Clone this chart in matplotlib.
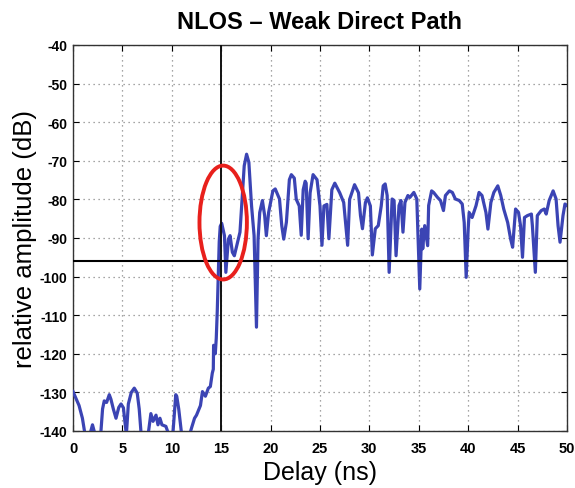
import matplotlib
matplotlib.use("Agg")
import matplotlib.pyplot as plt
from matplotlib.patches import Ellipse

plt.rcParams['font.family'] = ['Liberation Sans', 'DejaVu Sans']

delay_ns = [
    0.0, 0.34, 0.61, 0.95, 1.22, 1.7, 1.97, 2.24, 2.8, 2.99, 3.16, 3.4, 3.67, 3.84, 4.08, 4.35, 4.63, 4.86,
    5.1, 5.4, 5.6, 5.9, 6.2, 6.5, 6.7, 6.9, 7.6, 7.88, 8.1, 8.4, 8.6, 8.8, 9.0, 9.4, 9.7, 10.1, 10.4, 10.5,
    10.7, 11.0, 11.8, 12.0, 12.3, 12.5, 12.9, 13.1, 13.4, 13.7, 13.9, 14.1, 14.2, 14.23, 14.4, 14.5, 14.6,
    14.7, 14.8, 14.9, 15.05, 15.33, 15.47, 15.73, 15.9, 16.13, 16.33, 16.57, 16.9, 17.07, 17.33, 17.57, 17.8,
    18.07, 18.33, 18.57, 18.73, 18.9, 19.17, 19.4, 19.57, 19.8, 20.23, 20.47, 20.9, 21.13, 21.33, 21.6, 21.9,
    22.1, 22.4, 22.6, 22.9, 23.1, 23.3, 23.5, 23.6, 23.8, 24.0, 24.3, 24.7, 25.0, 25.2, 25.4, 25.7, 25.9,
    26.2, 26.5, 27.0, 27.4, 27.8, 28.0, 28.5, 28.9, 29.1, 29.3, 29.6, 29.8, 30.1, 30.3, 30.6, 30.9, 31.2,
    31.4, 31.6, 31.8, 32.0, 32.3, 32.5, 32.7, 33.0, 33.2, 33.4, 33.6, 33.9, 34.1, 34.5, 34.8, 34.9, 35.1,
    35.3, 35.4, 35.6, 35.9, 36.0, 36.3, 36.5, 36.9, 37.2, 37.5, 37.7, 38.1, 38.4, 38.7, 39.1, 39.4, 39.6,
    39.8, 40.0, 40.1, 40.4, 40.8, 41.1, 41.4, 41.8, 42.0, 42.3, 42.6, 43.0, 43.3, 43.6, 44.0, 44.3, 44.5,
    44.8, 45.1, 45.3, 45.5, 45.7, 46.0, 46.4, 46.5, 46.8, 47.0, 47.4, 47.7, 47.9, 48.2, 48.6, 48.9, 49.1,
    49.3, 49.6, 49.8, 50.0,
]
amplitude_db = [
    -129.8, -131.8, -133.4, -136.7, -141, -141, -138.4, -141, -141, -134.3, -132.2, -132.6, -130.6, -131.8,
    -134.3, -136.7, -133.9, -133.0, -134.0, -141, -133.0, -130.0, -128.9, -130.2, -134.3, -141, -141, -135.5,
    -137.5, -135.9, -138.4, -136.7, -138.4, -138.8, -141, -141, -130.6, -131.0, -134.3, -141, -141, -139.2,
    -136.7, -135.9, -133.4, -129.8, -131.0, -128.9, -128.5, -125.0, -124.0, -117.8, -120.0, -116.0, -109.0,
    -100.0, -91.0, -87.0, -86.2, -89.4, -98.9, -90.3, -89.4, -93.7, -94.6, -92.0, -88.5, -81.6, -71.3, -68.3,
    -70.4, -81.6, -89.4, -113.1, -90.3, -83.4, -80.3, -84.2, -89.4, -83.4, -77.8, -77.3, -79.9, -86.8, -90.3,
    -85.9, -74.9, -73.6, -74.5, -80.0, -81.7, -89.3, -77.5, -75.3, -75.8, -90.2, -78.3, -73.6, -74.9, -81.7,
    -91.9, -81.7, -81.3, -90.2, -77.5, -75.8, -78.3, -80.8, -91.9, -80.0, -76.2, -78.3, -84.2, -87.6, -80.8,
    -79.6, -81.7, -94.4, -87.6, -86.8, -81.7, -76.5, -76.0, -79.0, -98.9, -79.9, -80.3, -94.6, -81.6, -80.3,
    -88.5, -80.8, -79.0, -79.5, -78.2, -79.9, -87.7, -103.2, -87.7, -92.8, -86.8, -92.0, -81.6, -77.8, -78.2,
    -79.5, -80.3, -82.9, -79.0, -77.8, -78.2, -79.9, -80.3, -81.2, -86.0, -100.2, -87.7, -83.4, -84.7, -81.6,
    -78.2, -79.0, -83.4, -87.7, -80.8, -78.2, -76.5, -79.0, -82.5, -86.0, -90.3, -92.4, -82.5, -83.4, -86.8,
    -95.0, -84.7, -84.2, -83.8, -86.8, -98.9, -84.2, -82.9, -82.5, -83.8, -80.3, -77.8, -79.9, -86.8, -91.1,
    -84.2, -81.2, -81.6,
]

x_ticks = [0, 5, 10, 15, 20, 25, 30, 35, 40, 45, 50]
y_ticks = [-40, -50, -60, -70, -80, -90, -100, -110, -120, -130, -140]
threshold_db = -96
arrival_ns = 15
ellipse_center = (15.2, -86)
ellipse_size = (4.8, 29.5)

fig = plt.figure(figsize=(5.75, 4.89), dpi=100)
ax = fig.add_axes([0.127, 0.1166, 0.859, 0.7894])

ax.plot(delay_ns, amplitude_db, color='#3b44b4', lw=2.3, solid_joinstyle='round', zorder=3)
ax.axhline(threshold_db, color='black', lw=1.5, zorder=4)
ax.axvline(arrival_ns, color='#111111', lw=1.4, zorder=4)
ax.add_patch(Ellipse(ellipse_center, ellipse_size[0], ellipse_size[1], fill=False,
                     edgecolor='#e8201c', lw=2.8, zorder=5))

ax.set_xlim(0, 50)
ax.set_ylim(-140, -40)
ax.set_xticks(x_ticks)
ax.set_yticks(y_ticks)
ax.set_xticklabels([str(t) for t in x_ticks], fontsize=10.5, fontweight='bold')
ax.set_yticklabels([str(t) for t in y_ticks], fontsize=10, fontweight='bold')
ax.grid(True, linestyle=(0, (1, 3)), color='#888888', lw=0.9)
ax.tick_params(direction='in', top=True, right=True, length=4, width=0.8)
ax.tick_params(axis='x', pad=7)
ax.tick_params(axis='y', pad=4)
for s in ax.spines.values():
    s.set_linewidth(1.0)
    s.set_color('#333333')

ax.set_title('NLOS – Weak Direct Path', fontsize=17, fontweight='bold', pad=12)
ax.set_xlabel('Delay (ns)', fontsize=18, labelpad=4)
ax.set_ylabel('relative amplitude (dB)', fontsize=18.5, labelpad=2)

fig.savefig('out.png', dpi=100)
